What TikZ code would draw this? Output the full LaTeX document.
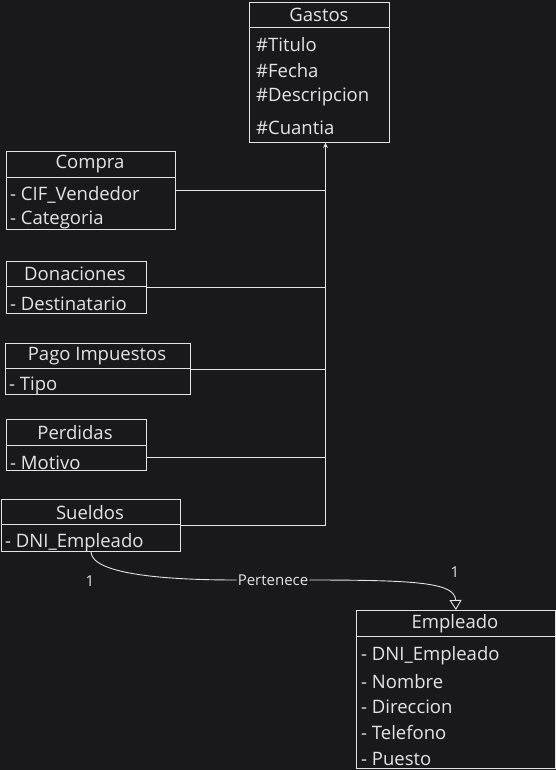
\documentclass[tikz,border=0pt]{standalone}
\usepackage{fontspec}
\setmainfont{Open Sans}
\usetikzlibrary{arrows.meta,calc}
\definecolor{bg}{HTML}{19181D}
\definecolor{ink}{HTML}{E4E4E4}

\begin{document}
\begin{tikzpicture}[x=1pt,y=-1pt,
  every node/.style={font=\fontsize{18.5}{20}\selectfont, text=ink},
  box/.style={draw=ink, line width=0.9pt, inner sep=0pt, anchor=north west},
  sep/.style={draw=ink, line width=0.9pt},
  title/.style={inner sep=0pt},
  attr/.style={anchor=west, inner sep=0pt},
  link/.style={draw=ink, line width=0.9pt},
  mult/.style={font=\fontsize{15}{17}\selectfont, inner sep=1pt}]
\fill[bg] (0,0) rectangle (556,770);

% superclass
\node[box, minimum width=140pt, minimum height=140pt] (gastos) at (249,2) {};
\draw[sep] (249,27) -- (389,27);
\node[title] (gastosT) at (319,15) {Gastos};
\node[attr] (g1) at (256,45) {\#Titulo};
\node[attr] (g2) at (256,71) {\#Fecha};
\node[attr] (g3) at (256,97) {\#Descripcion};
\node[attr] (g4) at (256,128) {\#Cuantia};

% subclasses
\node[box, minimum width=169pt, minimum height=78pt] (compra) at (6,151) {};
\draw[sep] (6,177) -- (175,177);
\node[title] (compraT) at (90,164) {Compra};
\node[attr] (c1) at (10,195) {- CIF\_Vendedor};
\node[attr] (c2) at (10,220) {- Categoria};

\node[box, minimum width=140pt, minimum height=52pt] (donaciones) at (6,261) {};
\draw[sep] (6,286) -- (146,286);
\node[title] (donacionesT) at (75,274) {Donaciones};
\node[attr] (d1) at (10,304) {- Destinatario};

\node[box, minimum width=185pt, minimum height=51pt] (pago) at (5,343) {};
\draw[sep] (5,368) -- (190,368);
\node[title] (pagoT) at (97,356) {Pago Impuestos};
\node[attr] (p1) at (9,386) {- Tipo};

\node[box, minimum width=140pt, minimum height=51pt] (perdidas) at (6,419) {};
\draw[sep] (6,445) -- (146,445);
\node[title] (perdidasT) at (75,433) {Perdidas};
\node[attr] (pe1) at (10,463) {- Motivo};

\node[box, minimum width=179pt, minimum height=52pt] (sueldos) at (1,499) {};
\draw[sep] (1,524) -- (180,524);
\node[title] (sueldosT) at (90,513) {Sueldos};
\node[attr] (s1) at (5,543) {- DNI\_Empleado};

% employee
\node[box, minimum width=199pt, minimum height=158pt] (empleado) at (356,610) {};
\draw[sep] (356,636) -- (555,636);
\node[title] (empleadoT) at (455,624) {Empleado};
\node[attr] (e1) at (361,656) {- DNI\_Empleado};
\node[attr] (e2) at (361,682) {- Nombre};
\node[attr] (e3) at (361,707) {- Direccion};
\node[attr] (e4) at (361,733) {- Telefono};
\node[attr] (e5) at (361,759) {- Puesto};

% inheritance
\coordinate (head) at ([xshift=6pt]gastos.south);
\draw[link, -{Stealth[length=5pt,width=5pt]}] (sueldos.east) -| (head);
\draw[link] (compra.east) -- (compra.east -| head);
\draw[link] (donaciones.east) -- (donaciones.east -| head);
\draw[link] (pago.east) -- (pago.east -| head);
\draw[link] ([yshift=-12pt]perdidas.east) -- ([yshift=-12pt]perdidas.east -| head);

% association
\node[mult, fill=bg] (pert) at (273,580) {Pertenece};
\draw[link] (sueldos.south) .. controls (92,575) and (170,580) .. (pert.west);
\draw[link, -{Triangle[open,fill=bg,length=10pt,width=12pt]}] (pert.east) .. controls (420,580) and (455,583) .. (empleado.north);
\node[mult] (m1) at (90,581) {1};
\node[mult] (m2) at (455,572) {1};
\end{tikzpicture}
\end{document}
